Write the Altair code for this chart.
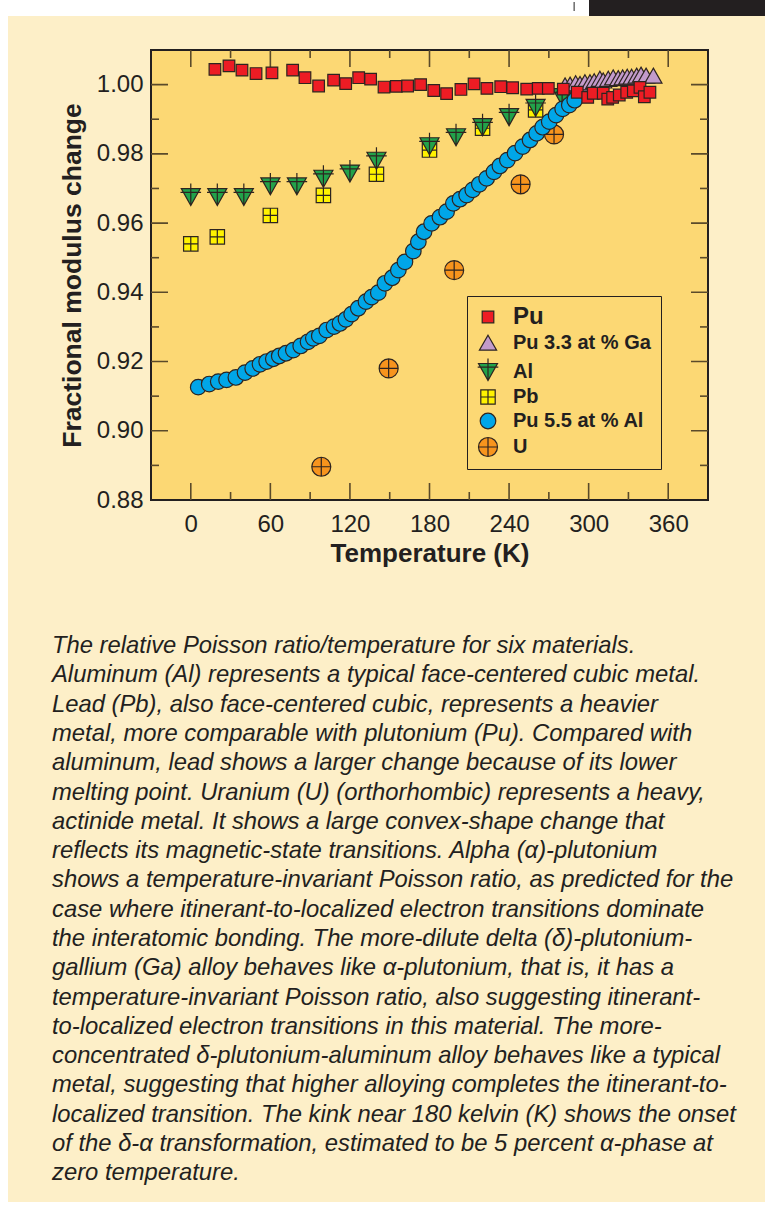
import altair as alt
import pandas as pd

# ---------------- data ----------------
pu_T = [18.2, 28.8, 38.6, 49.2, 61.2, 76.8, 86.1, 96.4, 107.7, 116.8, 126.6, 135.6, 145.7,
        155.0, 163.5, 173.3, 183.2, 192.9, 203.7, 213.6, 223.3, 233.7, 242.7, 253.3, 262.0,
        269.6, 280.9, 291.4, 299.3, 303.5, 311.0, 314.4, 318.1, 323.1, 328.7, 333.7, 338.7,
        342.0, 346.2]
pu_v = [1.0044, 1.0054, 1.0042, 1.0032, 1.0034, 1.0042, 1.0020, 0.9996, 1.0013, 1.0003,
        1.0020, 1.0016, 0.9993, 0.9995, 0.9996, 1.0000, 0.9983, 0.9974, 0.9986, 1.0002,
        0.9989, 0.9994, 0.9991, 0.9987, 0.9989, 0.9989, 0.9987, 0.9978, 0.9963, 0.9975,
        0.9975, 0.9958, 0.9963, 0.9970, 0.9978, 0.9982, 0.9992, 0.9965, 0.9978]

ga_T = [282.2, 286.0, 290.2, 293.5, 297.2, 301.0, 304.2, 308.5, 311.0, 314.8, 318.5,
        322.3, 325.6, 329.1, 332.4, 336.2, 339.5, 343.3, 348.8]
ga_v = [0.9997, 0.9999, 1.0003, 1.0001, 1.0006, 1.0006, 1.0009, 1.0016, 1.0011, 1.0016,
        1.0020, 1.0018, 1.0020, 1.0022, 1.0022, 1.0025, 1.0028, 1.0025, 1.0025]

al_T = [0, 20, 40, 60, 80, 100, 120, 140, 180, 200, 220, 240, 260, 280]
al_v = [0.9675, 0.9675, 0.9675, 0.9706, 0.9706, 0.9728, 0.9743, 0.9780, 0.9822, 0.9848,
        0.9877, 0.9906, 0.9933, 0.9964]

pb_T = [0, 20, 60, 100, 140, 180, 220, 260]
pb_v = [0.9540, 0.9560, 0.9622, 0.9680, 0.9741, 0.9811, 0.9874, 0.9927]

pual_T = [5.6, 13.9, 20.7, 27.0, 34.0, 40.9, 46.7, 52.2, 57.2, 62.2, 66.7, 71.8, 77.3, 82.9,
          88.4, 92.4, 96.9, 102.5, 108.0, 112.5, 117.0, 121.3, 126.3, 132.1, 136.4, 141.4,
          146.4, 151.9, 156.5, 161.5, 167.8, 171.6, 175.9, 181.6, 187.9, 192.9, 198.0, 203.0,
          208.0, 212.6, 217.6, 223.1, 228.6, 233.1, 238.7, 244.5, 250.3, 255.8, 260.8, 265.3,
          270.3, 275.4, 280.4, 285.4, 289.5]
pual_v = [0.9126, 0.9135, 0.9142, 0.9147, 0.9154, 0.9168, 0.9180, 0.9192, 0.9200, 0.9208,
          0.9216, 0.9224, 0.9233, 0.9245, 0.9257, 0.9267, 0.9274, 0.9291, 0.9301, 0.9310,
          0.9322, 0.9337, 0.9354, 0.9373, 0.9386, 0.9399, 0.9426, 0.9442, 0.9464, 0.9488,
          0.9519, 0.9546, 0.9575, 0.9599, 0.9617, 0.9633, 0.9657, 0.9669, 0.9681, 0.9696,
          0.9712, 0.9729, 0.9748, 0.9765, 0.9782, 0.9802, 0.9821, 0.9840, 0.9859, 0.9877,
          0.9893, 0.9912, 0.9930, 0.9941, 0.9955]

u_T = [98.4, 149.2, 198.6, 248.7, 273.9]
u_v = [0.8896, 0.9180, 0.9464, 0.9712, 0.9856]

series_order = ["Pu", "Pu 3.3 at % Ga", "Al", "Pb", "Pu 5.5 at % Al", "U"]
series_fill = ["#ED1C24", "#C39BCB", "#22A24A", "#FFF200", "#00A6E8", "#F7941D"]
series_shape = [
    "M-0.58,-0.58L0.58,-0.58L0.58,0.58L-0.58,0.58Z",
    "M0,-0.78L0.86,0.72L-0.86,0.72Z",
    "M-0.95,-0.85L0.95,-0.85L0,0.85Z M-1.03,-0.48L1.03,-0.48 M0,-1.35L0,0.85",
    "M-0.72,-0.72L0.72,-0.72L0.72,0.72L-0.72,0.72Z M-0.72,0L0.72,0 M0,-0.72L0,0.72",
    "M0.78,0A0.78,0.78,0,1,1,-0.78,0A0.78,0.78,0,1,1,0.78,0Z",
    "M0.95,0A0.95,0.95,0,1,1,-0.95,0A0.95,0.95,0,1,1,0.95,0Z M-0.95,0L0.95,0 M0,-0.95L0,0.95",
]

x_labels = [0, 60, 120, 180, 240, 300, 360]
x_minor = [30, 90, 150, 210, 270, 330]
y_labels = [0.88, 0.90, 0.92, 0.94, 0.96, 0.98, 1.00]
y_minor = [0.89, 0.91, 0.93, 0.95, 0.97, 0.99]
x_dom = [-30, 390]
y_dom = [0.88, 1.01]

caption = [
    "The relative Poisson ratio/temperature for six materials.",
    "Aluminum (Al) represents a typical face-centered cubic metal.",
    "Lead (Pb), also face-centered cubic, represents a heavier",
    "metal, more comparable with plutonium (Pu). Compared with",
    "aluminum, lead shows a larger change because of its lower",
    "melting point. Uranium (U) (orthorhombic) represents a heavy,",
    "actinide metal. It shows a large convex-shape change that",
    "reflects its magnetic-state transitions. Alpha (\u03b1)-plutonium",
    "shows a temperature-invariant Poisson ratio, as predicted for the",
    "case where itinerant-to-localized electron transitions dominate",
    "the interatomic bonding. The more-dilute delta (\u03b4)-plutonium-",
    "gallium (Ga) alloy behaves like \u03b1-plutonium, that is, it has a",
    "temperature-invariant Poisson ratio, also suggesting itinerant-",
    "to-localized electron transitions in this material. The more-",
    "concentrated \u03b4-plutonium-aluminum alloy behaves like a typical",
    "metal, suggesting that higher alloying completes the itinerant-to-",
    "localized transition. The kink near 180 kelvin (K) shows the onset",
    "of the \u03b4-\u03b1 transformation, estimated to be 5 percent \u03b1-phase at",
    "zero temperature.",
]

# ---------------- tables ----------------
draw_order = [("Pb", pb_T, pb_v), ("Al", al_T, al_v), ("U", u_T, u_v),
              ("Pu 5.5 at % Al", pual_T, pual_v), ("Pu 3.3 at % Ga", ga_T, ga_v),
              ("Pu", pu_T, pu_v)]
rows = []
for name, ts, vs in draw_order:
    for t, v in zip(ts, vs):
        rows.append({"series": name, "T": t, "v": v})
pts = pd.DataFrame(rows)

def xt(vals):
    return pd.DataFrame([{"T": t, "v": y} for t in vals for y in y_dom])

def yt(vals):
    return pd.DataFrame([{"T": x, "v": v} for v in vals for x in x_dom])

INK = "#231F20"
GOLD = "#FCD874"
CREAM = "#FDEFC8"
TICK = "#5a4a2a"
EDGE = "#2d2420"
FONT = "Liberation Sans"

xs = alt.Scale(domain=x_dom, nice=False, zero=False)
ys = alt.Scale(domain=y_dom, nice=False, zero=False)
x_axis = alt.Axis(values=x_labels, title="Temperature (K)", ticks=False, domain=False,
                  grid=False, labelPadding=12, titlePadding=4, labelFontSize=24,
                  titleFontSize=26, labelFont=FONT, titleFont=FONT, labelColor=INK,
                  titleColor=INK, titleFontWeight="bold")
y_axis = alt.Axis(values=y_labels, format=".2f", title="Fractional modulus change",
                  ticks=False, domain=False, grid=False, labelPadding=8, titlePadding=10,
                  labelFontSize=24, titleFontSize=26.5, labelFont=FONT, titleFont=FONT,
                  labelColor=INK, titleColor=INK, titleFontWeight="bold")
X = alt.X("T:Q", scale=xs, axis=x_axis)
Y = alt.Y("v:Q", scale=ys, axis=y_axis)

def tick_layer(df, orient, size):
    return alt.Chart(df).mark_tick(orient=orient, size=size, thickness=1.6, color=TICK,
                                   opacity=1, clip=True).encode(x=X, y=Y)

ticks = [tick_layer(xt(x_labels), "vertical", 34), tick_layer(xt(x_minor), "vertical", 16),
         tick_layer(yt(y_labels[1:]), "horizontal", 34), tick_layer(yt(y_minor), "horizontal", 16)]

legend = alt.Legend(title=None, orient="none", legendX=316, legendY=246, padding=10,
                    fillColor=GOLD, strokeColor=INK, labelFont=FONT, labelFontWeight="bold",
                    labelFontSize={"expr": "datum.label == 'Pu' ? 24 : 20"},
                    labelColor=INK, symbolSize=400, symbolStrokeWidth=1.2,
                    labelOffset=14, rowPadding=3)

points = alt.Chart(pts).mark_point(filled=True, size=400, opacity=1,
                                   strokeWidth=1.2).encode(
    x=X, y=Y,
    fill=alt.Fill("series:N", scale=alt.Scale(domain=series_order, range=series_fill),
                  legend=legend),
    shape=alt.Shape("series:N", scale=alt.Scale(domain=series_order, range=series_shape),
                    legend=legend),
    stroke=alt.Stroke("series:N", scale=alt.Scale(domain=series_order,
                                                  range=[EDGE] * len(series_order)),
                      legend=legend),
)

one = alt.Data(values=[{"k": 1}])
def deco(x0, x1, y0, y1, color):
    return alt.Chart(one).mark_rect(color=color, opacity=1).encode(
        x=alt.value(x0), x2=alt.value(x1), y=alt.value(y0), y2=alt.value(y1))

decos = [deco(-151, -143, -50, 1158, "white"), deco(-151, 614, -50, -34, "white"),
         deco(-151, 614, 1152, 1158, "white"), deco(438, 614, -50, -34, INK),
         deco(422.5, 423.8, -48, -39, "#555555")]

caption_layer = alt.Chart(one).mark_text(
    text=caption, align="left", baseline="alphabetic", font=FONT,
    fontStyle="italic", fontSize=23.8, lineHeight=29.3, color=INK).encode(
    x=alt.value(-99), y=alt.value(603))

chart = alt.layer(*decos, *ticks, points, caption_layer).properties(
    width=557, height=450,
    padding={"left": 151, "top": 50, "right": 57, "bottom": 708},
    autosize=alt.AutoSizeParams(type="none"),
).configure(background=CREAM).configure_view(fill=GOLD, stroke=INK, strokeWidth=2)

chart.save("out.html", embed_options={"renderer": "svg", "actions": False})
